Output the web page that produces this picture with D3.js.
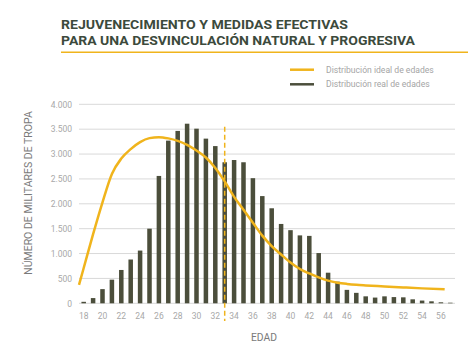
<!DOCTYPE html>
<html>
<head>
<meta charset="utf-8">
<script src="https://cdn.jsdelivr.net/npm/d3@7"></script>
<style>
  body { margin: 0; background: #fff; }
  svg { display: block; font-family: Roboto, "Open Sans", sans-serif; }
</style>
</head>
<body>
<script>
    var w = 468;
    var h = 351;

    // Real age distribution (bars)
    var ages = d3.range(18, 58);
    var realValues = [30, 105, 285, 475, 670, 880, 1060, 1500, 2560, 3270,
                      3465, 3610, 3510, 3310, 3160, 2835, 2880, 2835, 2515, 2155,
                      1910, 1595, 1470, 1365, 1355, 1010, 615, 435, 270, 210,
                      140, 115, 140, 125, 120, 80, 55, 40, 20, 12];

    // Ideal age distribution (curve)
    var idealAges   = [17.5, 18, 19, 20, 21, 22, 23, 24, 25, 26, 27, 28, 29, 30, 31, 32, 33, 34,
                       35, 36, 37, 38, 39, 40, 41, 42, 43, 44, 45, 46, 47, 48, 50, 52, 54, 56.4];
    var idealValues = [370, 710, 1390, 2030, 2600, 2910, 3100, 3240, 3320, 3340, 3315, 3265, 3185, 3070, 2930, 2720, 2450, 2140,
                       1880, 1620, 1360, 1150, 980, 820, 690, 600, 520, 455, 415, 390, 372, 360, 340, 320, 300, 280];

    var yTicks = [0, 500, 1000, 1500, 2000, 2500, 3000, 3500, 4000];
    var xTickLabels = d3.range(18, 57, 2);
    var cutoffAge = 33;

    var titleLines = ["REJUVENECIMIENTO Y MEDIDAS EFECTIVAS",
                      "PARA UNA DESVINCULACIÓN NATURAL Y PROGRESIVA"];
    var legendLabels = ["Distribución ideal de edades", "Distribución real de edades"];

    var yellow = "#f0b41c";
    var olive = "#4b4e3b";

    var svg = d3.select("body")
                .append("svg")
                .attr("width", w)
                .attr("height", h);

    var x = d3.scaleBand()
              .domain(ages)
              .range([79, 455])
              .paddingInner(0.52)
              .paddingOuter(0.26);

    var xLin = d3.scaleLinear()
                 .domain([17.5, 57.5])
                 .range([79, 455]);

    var y = d3.scaleLinear()
              .domain([0, 4000])
              .range([303.3, 104.3]);

    // Title
    svg.selectAll(".title")
       .data(titleLines)
       .enter()
       .append("text")
       .attr("class", "title")
       .attr("x", 61)
       .attr("y", (d, i) => 29 + i * 15.7)
       .attr("textLength", (d, i) => i == 0 ? 287 : 354)
       .attr("lengthAdjust", "spacingAndGlyphs")
       .style("font-size", "12.2px")
       .style("font-weight", "700")
       .style("fill", "#3c4a3c")
       .text(d => d);

    svg.append("line")
       .attr("x1", 61).attr("x2", 468)
       .attr("y1", 52.3).attr("y2", 52.3)
       .attr("stroke", yellow)
       .attr("stroke-width", 1.5);

    // Legend
    var legend = svg.selectAll(".legend")
                    .data(legendLabels)
                    .enter()
                    .append("g")
                    .attr("class", "legend")
                    .attr("transform", (d, i) => "translate(290," + (69.7 + i * 14.6) + ")");

    legend.append("line")
          .attr("x1", 0).attr("x2", 24)
          .attr("stroke", (d, i) => i == 0 ? yellow : olive)
          .attr("stroke-width", 2.5);

    legend.append("text")
          .attr("x", 36)
          .attr("dy", "0.35em")
          .style("font-size", "8.6px")
          .style("fill", "#a5a5a5")
          .text(d => d);

    // Grid lines
    svg.selectAll(".grid")
       .data(yTicks)
       .enter()
       .append("line")
       .attr("class", "grid")
       .attr("x1", 79).attr("x2", 455)
       .attr("y1", d => y(d)).attr("y2", d => y(d))
       .attr("stroke", "#d9d9d9")
       .attr("stroke-width", 1);

    // Y axis labels
    var yAxis = d3.axisLeft(y)
                  .tickValues(yTicks)
                  .tickSize(0)
                  .tickPadding(0)
                  .tickFormat(d => d3.format(",")(d).replace(",", "."));

    svg.append("g")
       .attr("transform", "translate(72,0)")
       .call(yAxis)
       .call(g => g.select(".domain").remove())
       .selectAll("text")
       .style("font-size", "8.5px")
       .style("font-family", "Roboto, sans-serif")
       .style("fill", "#a8a8a8");

    // X axis labels
    var xAxis = d3.axisBottom(x)
                  .tickValues(xTickLabels)
                  .tickSize(0)
                  .tickPadding(0);

    svg.append("g")
       .attr("transform", "translate(0,312.5)")
       .call(xAxis)
       .call(g => g.select(".domain").remove())
       .selectAll("text")
       .style("font-size", "8.5px")
       .style("font-family", "Roboto, sans-serif")
       .style("fill", "#a8a8a8");

    // Axis titles
    svg.append("text")
       .attr("transform", "translate(31.5,193) rotate(-90)")
       .attr("text-anchor", "middle")
       .style("font-size", "10.5px")
       .style("fill", "#7a7a7a")
       .text("NÚMERO DE MILITARES DE TROPA");

    svg.append("text")
       .attr("x", 264)
       .attr("y", 340.5)
       .attr("text-anchor", "middle")
       .style("font-size", "10.3px")
       .style("fill", "#7a7a7a")
       .text("EDAD");

    // Bars
    svg.selectAll(".bar")
       .data(ages)
       .enter()
       .append("rect")
       .attr("class", "bar")
       .attr("x", d => x(d))
       .attr("width", x.bandwidth())
       .attr("y", (d, i) => y(realValues[i]))
       .attr("height", (d, i) => y(0) - y(realValues[i]))
       .attr("fill", olive);

    // Cutoff dashed line
    svg.append("line")
       .attr("x1", xLin(cutoffAge)).attr("x2", xLin(cutoffAge))
       .attr("y1", y(3550)).attr("y2", 321)
       .attr("stroke", yellow)
       .attr("stroke-width", 1.5)
       .attr("stroke-dasharray", "5,3");

    // Ideal curve
    var line = d3.line()
                 .x((d, i) => xLin(idealAges[i]))
                 .y(d => y(d))
                 .curve(d3.curveMonotoneX);

    svg.append("path")
       .datum(idealValues)
       .attr("d", line)
       .attr("fill", "none")
       .attr("stroke", yellow)
       .attr("stroke-width", 2.5);
</script>
</body>
</html>
